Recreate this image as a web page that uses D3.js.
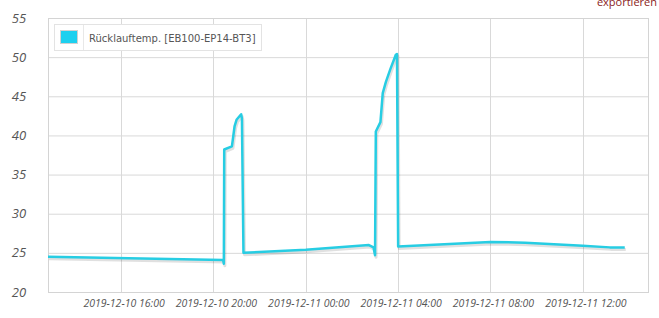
<!DOCTYPE html>
<html>
<head>
<meta charset="utf-8">
<script src="https://cdn.jsdelivr.net/npm/d3@7"></script>
<style>
  body { margin: 0; background: #fff; }
  svg { display: block; }
</style>
</head>
<body>
<div id="chart"></div>
<script>
// Series: Rücklauftemp. [EB100-EP14-BT3]
const seriesName = 'Rücklauftemp. [EB100-EP14-BT3]';
const times = [
  '2019-12-10 12:50', '2019-12-10 20:25', '2019-12-10 20:27', '2019-12-10 20:28',
  '2019-12-10 20:48', '2019-12-10 20:55', '2019-12-10 21:00', '2019-12-10 21:12',
  '2019-12-10 21:14', '2019-12-10 21:18', '2019-12-11 00:00', '2019-12-11 02:44',
  '2019-12-11 02:56', '2019-12-11 03:00', '2019-12-11 03:02', '2019-12-11 03:14',
  '2019-12-11 03:20', '2019-12-11 03:28', '2019-12-11 03:40', '2019-12-11 03:54',
  '2019-12-11 03:57', '2019-12-11 04:00', '2019-12-11 08:00', '2019-12-11 09:30',
  '2019-12-11 12:00', '2019-12-11 13:10', '2019-12-11 13:49'
];
const values = [
  24.5, 24.1, 23.6, 38.2,
  38.6, 41.2, 42.0, 42.7,
  42.2, 25.0, 25.4, 26.0,
  25.7, 24.7, 40.5, 41.7,
  45.4, 46.8, 48.5, 50.3,
  50.4, 25.8, 26.4, 26.3,
  25.9, 25.7, 25.7
];
const yTicks = [20, 25, 30, 35, 40, 45, 50, 55];
const xTicks = ['2019-12-10 16:00', '2019-12-10 20:00', '2019-12-11 00:00',
  '2019-12-11 04:00', '2019-12-11 08:00', '2019-12-11 12:00'];
const xDomain = ['2019-12-10 12:50', '2019-12-11 14:52'];

const parse = d3.timeParse('%Y-%m-%d %H:%M');
const fmt = d3.timeFormat('%Y-%m-%d %H:%M');
const data = times.map((t, i) => ({ t: parse(t), v: values[i] }));

const width = 659, height = 318;
const margin = { top: 18, right: 10, bottom: 26, left: 48 };

const svg = d3.select('#chart').append('svg')
  .attr('width', width)
  .attr('height', height);

const x = d3.scaleTime()
  .domain(xDomain.map(parse))
  .range([margin.left, width - margin.right]);

const y = d3.scaleLinear()
  .domain([20, 55])
  .range([height - margin.bottom, margin.top]);

// grid
svg.append('g')
  .selectAll('line')
  .data(yTicks)
  .join('line')
  .attr('x1', margin.left).attr('x2', width - margin.right)
  .attr('y1', d => y(d) + 0.5).attr('y2', d => y(d) + 0.5)
  .attr('stroke', '#d9d9d9');

svg.append('g')
  .selectAll('line')
  .data(xTicks)
  .join('line')
  .attr('x1', d => Math.round(x(parse(d))) + 0.5).attr('x2', d => Math.round(x(parse(d))) + 0.5)
  .attr('y1', margin.top).attr('y2', height - margin.bottom)
  .attr('stroke', '#d9d9d9');

svg.append('rect')
  .attr('x', margin.left + 0.5).attr('y', margin.top + 0.5)
  .attr('width', width - margin.left - margin.right - 1)
  .attr('height', height - margin.top - margin.bottom)
  .attr('fill', 'none')
  .attr('stroke', '#d4d4d4');

// y labels
svg.append('g')
  .selectAll('text')
  .data(yTicks)
  .join('text')
  .attr('x', 19)
  .attr('y', d => y(d))
  .attr('dy', '0.35em')
  .attr('text-anchor', 'middle')
  .style('font-family', '"Open Sans", sans-serif')
  .style('font-style', 'italic')
  .style('font-size', '13px')
  .style('fill', '#555')
  .text(d => d);

// x labels
svg.append('g')
  .selectAll('text')
  .data(xTicks)
  .join('text')
  .attr('x', d => x(parse(d)) + 3)
  .attr('y', height - margin.bottom + 15)
  .attr('text-anchor', 'middle')
  .style('font-family', '"Open Sans", sans-serif')
  .style('font-style', 'italic')
  .style('font-size', '10.5px')
  .style('fill', '#555')
  .text(d => fmt(parse(d)));

// line with soft shadow
const line = d3.line()
  .x(d => x(d.t))
  .y(d => y(d.v));

svg.append('path')
  .datum(data)
  .attr('d', line)
  .attr('transform', 'translate(1,2)')
  .attr('fill', 'none')
  .attr('stroke', 'rgba(0,0,0,0.12)')
  .attr('stroke-width', 3)
  .attr('stroke-linejoin', 'round');

svg.append('path')
  .datum(data)
  .attr('d', line)
  .attr('fill', 'none')
  .attr('stroke', '#27cde3')
  .attr('stroke-width', 2.5)
  .attr('stroke-linejoin', 'round');

// legend
const lg = svg.append('g').attr('transform', 'translate(54,24)');
lg.append('rect')
  .attr('x', 0.5).attr('y', 0.5)
  .attr('width', 207).attr('height', 26)
  .attr('fill', '#fff')
  .attr('stroke', '#e3e3e3');
lg.append('line')
  .attr('x1', 29.5).attr('x2', 29.5)
  .attr('y1', 1).attr('y2', 26)
  .attr('stroke', '#e8e8e8');
lg.append('rect')
  .attr('x', 6.5).attr('y', 6.5)
  .attr('width', 17).attr('height', 13)
  .attr('fill', '#1dd0ef')
  .attr('stroke', '#d0d0d0');
lg.append('text')
  .attr('x', 35)
  .attr('y', 17.5)
  .style('font-family', '"DejaVu Sans", sans-serif')
  .style('font-size', '10px')
  .style('fill', '#555')
  .text(seriesName);

// export link
svg.append('text')
  .attr('x', 657)
  .attr('y', 6)
  .attr('text-anchor', 'end')
  .style('font-family', '"Open Sans", sans-serif')
  .style('font-size', '11px')
  .style('fill', '#8b1c1c')
  .text('exportieren');
</script>
</body>
</html>
